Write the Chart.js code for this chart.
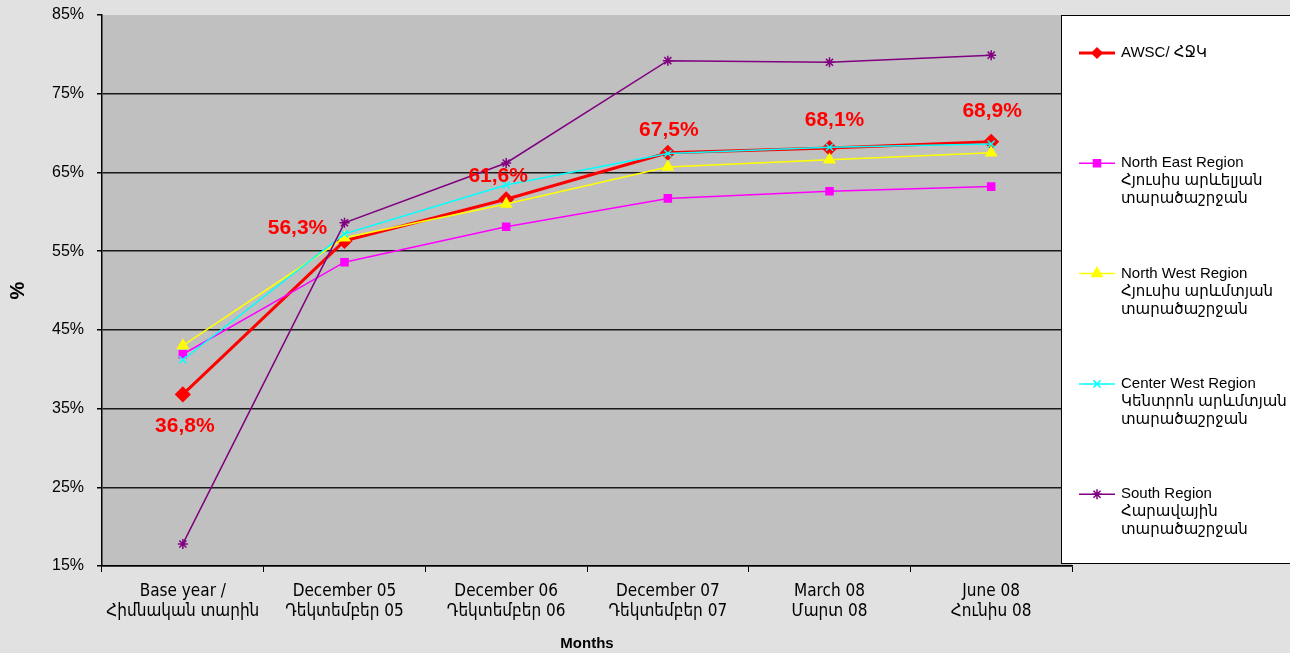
<!DOCTYPE html>
<html>
<head>
<meta charset="utf-8">
<script src="https://cdn.jsdelivr.net/npm/chart.js@4"></script>
<style>
  html, body { margin: 0; padding: 0; background: #e1e1e1; }
  #wrap { width: 1290px; height: 653px; }
</style>
</head>
<body>
<div id="wrap"><canvas id="chart" width="1290" height="653"></canvas></div>
<script>
// categories (two lines each)
var months = [
  ["Base year /", "Հիմնական տարին"],
  ["December 05", "Դեկտեմբեր 05"],
  ["December 06", "Դեկտեմբեր 06"],
  ["December 07", "Դեկտեմբեր 07"],
  ["March 08", "Մարտ 08"],
  ["June 08", "Հունիս 08"]
];

// series values, %
var awsc      = [36.8, 56.3, 61.6, 67.5, 68.1, 68.9];
var northEast = [41.9, 53.6, 58.1, 61.7, 62.6, 63.2];
var northWest = [43.0, 56.7, 61.0, 65.7, 66.6, 67.5];
var centerWest = [41.2, 57.2, 63.4, 67.4, 68.2, 68.6];
var south     = [17.8, 58.6, 66.2, 79.2, 79.0, 79.9];

// legend names (several lines)
var seriesNames = [
  ["AWSC/ ՀՋԿ"],
  ["North East Region", "Հյուսիս արևելյան", "տարածաշրջան"],
  ["North West Region", "Հյուսիս արևմտյան", "տարածաշրջան"],
  ["Center West Region", "Կենտրոն արևմտյան", "տարածաշրջան"],
  ["South Region", "Հարավային", "տարածաշրջան"]
];

var yMin = 15, yMax = 85, yStep = 10;

var FONT = "'Liberation Sans', Arial, 'DejaVu Sans', sans-serif";
var NARROW = "'Liberation Sans Narrow', 'DejaVu Sans Condensed', 'DejaVu Sans', sans-serif";

// where the red value labels sit relative to their point
var labelShift = [[2, 32], [-47, -13], [-8, -23], [1, -23], [5, -28], [1, -31]];

var plotBg = {
  id: "plotBg",
  beforeDraw: function(chart) {
    var a = chart.chartArea, ctx = chart.ctx;
    ctx.save();
    ctx.fillStyle = "#c0c0c0";
    ctx.fillRect(a.left, a.top, a.right - a.left, a.bottom - a.top);
    ctx.restore();
  }
};

var valueLabels = {
  id: "valueLabels",
  afterDatasetsDraw: function(chart) {
    var ctx = chart.ctx;
    var meta = chart.getDatasetMeta(0);
    ctx.save();
    ctx.font = "bold 21px " + FONT;
    ctx.fillStyle = "#ff0000";
    ctx.textAlign = "center";
    ctx.textBaseline = "middle";
    meta.data.forEach(function(pt, i) {
      var v = chart.data.datasets[0].data[i];
      var txt = v.toFixed(1).replace(".", ",") + "%";
      ctx.fillText(txt, pt.x + labelShift[i][0], pt.y + labelShift[i][1]);
    });
    ctx.restore();
  }
};

var boxLegend = {
  id: "boxLegend",
  afterDraw: function(chart) {
    var ctx = chart.ctx;
    ctx.save();
    ctx.fillStyle = "#ffffff";
    ctx.fillRect(1061, 15, 240, 548);
    ctx.strokeStyle = "#000000";
    ctx.lineWidth = 1;
    ctx.strokeRect(1061.5, 15.5, 240, 548);
    chart.data.datasets.forEach(function(ds, i) {
      var y = 53 + i * 110.3;
      ctx.strokeStyle = ds.borderColor;
      ctx.lineWidth = ds.borderWidth;
      ctx.beginPath();
      ctx.moveTo(1079, y);
      ctx.lineTo(1115, y);
      ctx.stroke();
      ctx.fillStyle = ds.pointBackgroundColor;
      ctx.strokeStyle = ds.pointBorderColor;
      Chart.helpers.drawPoint(ctx, {
        pointStyle: ds.pointStyle,
        radius: ds.legendRadius,
        rotation: 0,
        borderWidth: ds.pointBorderWidth
      }, 1097, y);
      ctx.fillStyle = "#000000";
      ctx.font = "15px " + FONT;
      ctx.textAlign = "left";
      ctx.textBaseline = "middle";
      seriesNames[i].forEach(function(line, k) {
        ctx.fillText(line, 1121, y + k * 18);
      });
    });
    ctx.restore();
  }
};

function series(label, data, color, style, radius, lw, order, legendRadius) {
  return {
    label: label,
    data: data,
    borderColor: color,
    backgroundColor: color,
    borderWidth: lw,
    pointStyle: style,
    pointRadius: radius,
    pointHoverRadius: radius,
    pointBackgroundColor: color,
    pointBorderColor: color,
    pointBorderWidth: 1.5,
    legendRadius: legendRadius,
    tension: 0,
    order: order
  };
}

new Chart(document.getElementById("chart").getContext("2d"), {
  type: "line",
  data: {
    labels: months,
    datasets: [
      series(seriesNames[0].join(" "), awsc, "#ff0000", "rectRot", 7, 3, 5, 4),
      series(seriesNames[1].join(" "), northEast, "#ff00ff", "rect", 5, 1.5, 4, 5),
      series(seriesNames[2].join(" "), northWest, "#ffff00", "triangle", 6, 1.5, 3, 6),
      series(seriesNames[3].join(" "), centerWest, "#00ffff", "crossRot", 5, 1.5, 2, 5),
      series(seriesNames[4].join(" "), south, "#800080", "star", 5, 1.5, 1, 5)
    ]
  },
  options: {
    responsive: false,
    animation: false,
    layout: { padding: { top: 15, right: 218, left: 0, bottom: 0 } },
    plugins: {
      legend: { display: false },
      tooltip: { enabled: false }
    },
    scales: {
      x: {
        offset: true,
        afterFit: function(scale) {
          scale.height = 87;
          scale.paddingLeft = 0;
          scale.paddingRight = 0;
        },
        grid: {
          offset: true,
          drawOnChartArea: false,
          drawTicks: true,
          tickLength: 6,
          color: "#000000"
        },
        border: { color: "#000000", width: 1.5 },
        ticks: {
          color: "#000000",
          font: { family: NARROW, size: 17 },
          padding: 9,
          maxRotation: 0,
          autoSkip: false
        },
        title: {
          display: true,
          text: "Months",
          color: "#000000",
          font: { family: FONT, size: 15, weight: "bold" },
          padding: { top: 0, bottom: 0 }
        }
      },
      y: {
        min: yMin,
        max: yMax,
        afterFit: function(scale) {
          scale.width = 102;
          scale.paddingTop = 0;
          scale.paddingBottom = 0;
        },
        grid: {
          color: function(c) { return c.tick && c.tick.value === yMax ? "rgba(0,0,0,0)" : "#1a1a1a"; },
          tickColor: "#000000",
          tickLength: 5,
          lineWidth: 1.5
        },
        border: { color: "#000000", width: 1.5 },
        ticks: {
          stepSize: yStep,
          color: "#000000",
          font: { family: FONT, size: 16 },
          padding: 13,
          callback: function(v) { return v + "%"; }
        },
        title: {
          display: true,
          text: "%",
          color: "#000000",
          font: { family: FONT, size: 20, weight: "bold" },
          padding: { top: 6, bottom: 0 }
        }
      }
    }
  },
  plugins: [plotBg, valueLabels, boxLegend]
});
</script>
</body>
</html>
